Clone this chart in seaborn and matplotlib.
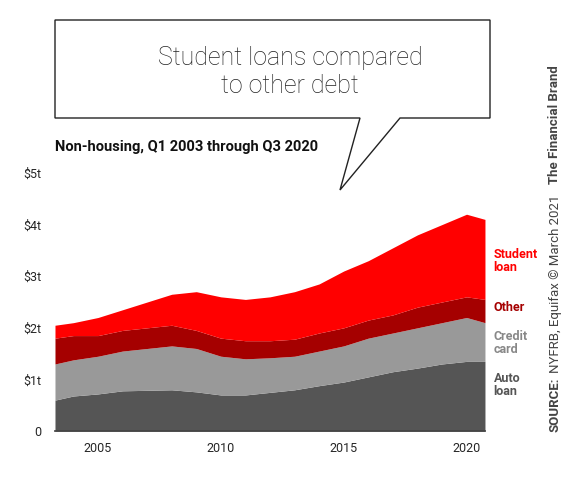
import matplotlib.pyplot as plt
import matplotlib.patches as mpatches
import seaborn as sns

sns.set_theme(style="white")
plt.rcParams['font.family'] = ['Roboto', 'DejaVu Sans']

years = [2003.25, 2004, 2005, 2006, 2007, 2008, 2009, 2010, 2011, 2012, 2013,
         2014, 2015, 2016, 2017, 2018, 2019, 2020, 2020.75]
auto_loan = [0.60, 0.68, 0.72, 0.78, 0.79, 0.80, 0.76, 0.70, 0.70, 0.75, 0.80,
             0.88, 0.95, 1.05, 1.15, 1.22, 1.30, 1.35, 1.35]
credit_card = [0.70, 0.70, 0.73, 0.77, 0.81, 0.85, 0.84, 0.75, 0.70, 0.67, 0.65,
               0.67, 0.70, 0.75, 0.75, 0.78, 0.80, 0.85, 0.75]
other = [0.50, 0.47, 0.40, 0.40, 0.40, 0.40, 0.35, 0.35, 0.35, 0.33, 0.33,
         0.35, 0.35, 0.35, 0.35, 0.40, 0.40, 0.40, 0.45]
student_loan = [0.25, 0.25, 0.35, 0.40, 0.50, 0.60, 0.75, 0.80, 0.80, 0.85, 0.92,
                0.95, 1.10, 1.15, 1.30, 1.40, 1.50, 1.60, 1.55]

colors = ["#555555", "#999999", "#a50000", "#ff0000"]
labels = ["Auto\nloan", "Credit\ncard", "Other", "Student\nloan"]
yticks = [0, 1, 2, 3, 4, 5]
ytick_labels = ["0", "$1t", "$2t", "$3t", "$4t", "$5t"]

fig = plt.figure(figsize=(5.85, 4.79), dpi=100)
ax = fig.add_axes([0.094, 0.100, 0.735, 0.539])
ax.stackplot(years, auto_loan, credit_card, other, student_loan, colors=colors, lw=0)
ax.set_xlim(2003.25, 2020.75)
ax.set_ylim(0, 5)
ax.set_yticks(yticks)
ax.set_yticklabels(ytick_labels, fontsize=9)
ax.set_xticks([2005, 2010, 2015, 2020])
ax.tick_params(axis='x', labelsize=9, length=4, color="#444444")
sns.despine(ax=ax, left=True)
ax.spines['bottom'].set_color("#444444")

# series labels on the right
pos = [0.9, 1.7, 2.4, 3.3]
for y, lab, c in zip(pos, labels, ["#555555", "#888888", "#a50000", "#ff0000"]):
    ax.text(1.02, y / 5, lab, transform=ax.transAxes, color=c, fontsize=9,
            fontweight='bold', va='center', ha='left', linespacing=1.0)

# speech bubble
bubble = mpatches.Polygon(
    [(55 / 585, 1 - 20 / 479), (490 / 585, 1 - 20 / 479), (490 / 585, 1 - 118 / 479),
     (400 / 585, 1 - 118 / 479), (340 / 585, 1 - 190 / 479), (360 / 585, 1 - 118 / 479),
     (55 / 585, 1 - 118 / 479)],
    closed=True, transform=fig.transFigure, facecolor="white", edgecolor="#222222", lw=1)
fig.patches.append(bubble)
fig.text(290 / 585, 1 - 72 / 479, "Student loans compared\nto other debt", ha='center',
         va='center', fontsize=18, color="#222222", linespacing=1.2, fontweight='light')

fig.text(55 / 585, 1 - 147 / 479, "Non-housing, Q1 2003 through Q3 2020", fontsize=10.5,
         fontweight='bold', color="#111111", va='center')

# vertical source line, in three parts
sx = 555 / 585
kw = dict(rotation=90, rotation_mode='anchor', va='center', fontsize=9.5, color="#444444")
fig.text(sx, 1 - 432 / 479, "SOURCE:", ha='left', fontweight='bold', **kw)
fig.text(sx, 1 - 373 / 479, "NYFRB, Equifax © March 2021", ha='left', **kw)
fig.text(sx, 1 - 65 / 479, "The Financial Brand", ha='right', fontweight='bold', **kw)

fig.savefig("out.png", dpi=100)
